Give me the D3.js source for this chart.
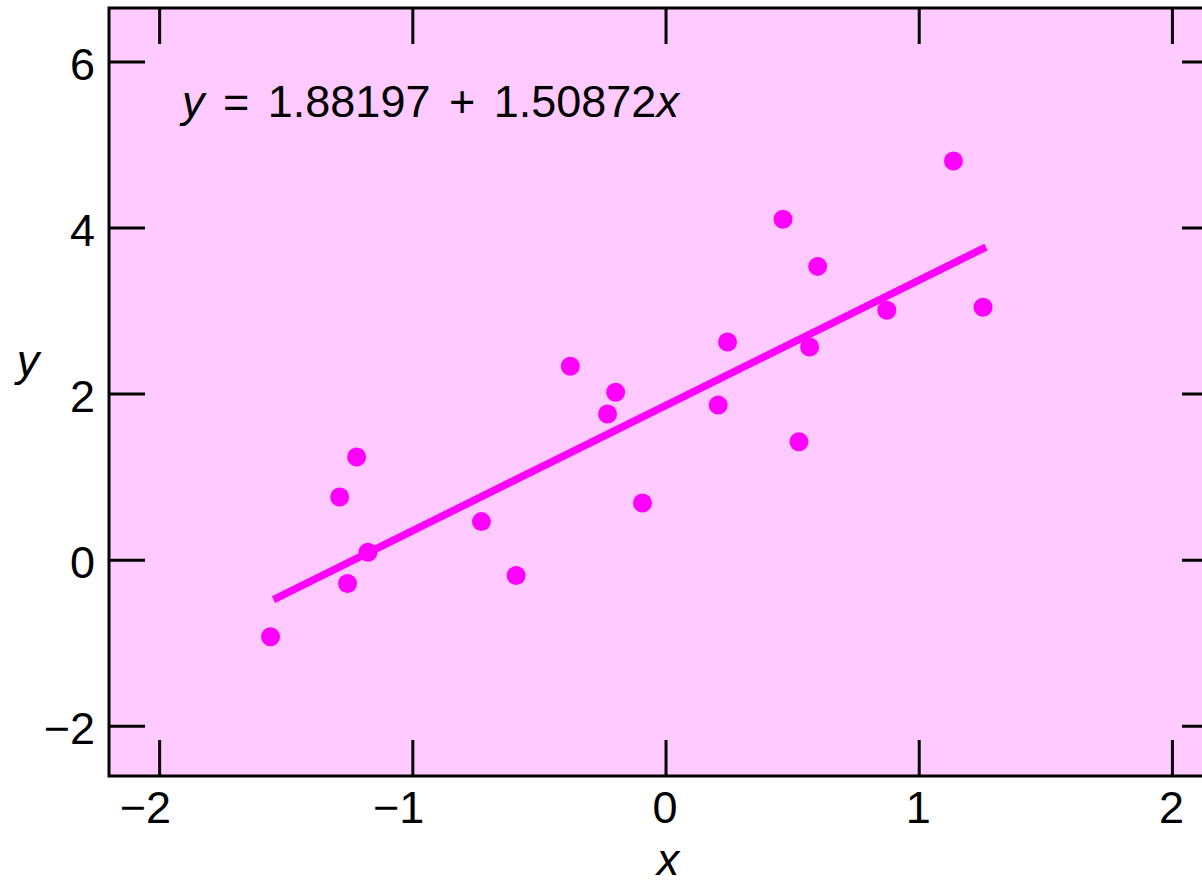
<!DOCTYPE html>
<meta charset="utf-8">
<title>Linear fit</title>
<style>
body {
  margin: 0;
  background: #fff;
}
text {
  font-family: "Liberation Sans", Arial, Helvetica, sans-serif;
  fill: #000;
}
</style>
<svg></svg>
<script src="https://d3js.org/d3.v7.min.js"></script>
<script>
// data points
var xs = [-1.562, -1.289, -1.258, -1.222, -1.177, -0.729, -0.592, -0.378, -0.231, -0.199,
          -0.093, 0.206, 0.243, 0.462, 0.525, 0.567, 0.599, 0.872, 1.135, 1.252];
var ys = [-0.922, 0.761, -0.281, 1.242, 0.095, 0.464, -0.185, 2.336, 1.759, 2.023,
          0.689, 1.867, 2.628, 4.106, 1.426, 2.568, 3.538, 3.009, 4.807, 3.045];
// fitted line y = a + b x
var intercept = 1.88197,
    slope = 1.50872;
var xTicks = [-2, -1, 0, 1, 2];
var yTicks = [-2, 0, 2, 4, 6];

var width = 1202,
    height = 882;
var fs = 45;

var svg = d3.select("svg")
    .attr("width", width)
    .attr("height", height);

var x = d3.scaleLinear()
    .domain([-2.2, 2.18])
    .range([109, 1218]);
var y = d3.scaleLinear()
    .domain([-2.6, 6.65])
    .range([776, 8]);

var x0 = x.range()[0], x1 = x.range()[1],
    y0 = y.range()[1], y1 = y.range()[0];

// plot background
svg.append("rect")
    .attr("x", x0)
    .attr("y", y0)
    .attr("width", x1 - x0)
    .attr("height", y1 - y0)
    .style("fill", "#ffcaff");

// tick marks on all four sides, pointing inward
var tickLen = 36;
var ticks = svg.append("g")
    .style("stroke", "#000")
    .style("stroke-width", 3);
xTicks.forEach(function(t) {
  ticks.append("line")
      .attr("x1", x(t)).attr("x2", x(t))
      .attr("y1", y1).attr("y2", y1 - tickLen);
  ticks.append("line")
      .attr("x1", x(t)).attr("x2", x(t))
      .attr("y1", y0).attr("y2", y0 + tickLen);
});
yTicks.forEach(function(t) {
  ticks.append("line")
      .attr("x1", x0).attr("x2", x0 + tickLen)
      .attr("y1", y(t)).attr("y2", y(t));
  ticks.append("line")
      .attr("x1", x1).attr("x2", x1 - tickLen)
      .attr("y1", y(t)).attr("y2", y(t));
});

// frame
svg.append("rect")
    .attr("x", x0)
    .attr("y", y0)
    .attr("width", x1 - x0)
    .attr("height", y1 - y0)
    .style("fill", "none")
    .style("stroke", "#000")
    .style("stroke-width", 3);

function fmt(t) {
  return t < 0 ? "\u2212" + Math.abs(t) : String(t);
}

// x tick labels (digit centred on tick, minus hangs left)
svg.append("g").selectAll("text")
    .data(xTicks)
  .enter().append("text")
    .attr("x", function(d) { return x(d) + 0.278 * fs - 1; })
    .attr("y", 823)
    .attr("text-anchor", "end")
    .style("font-size", fs + "px")
    .text(fmt);

// y tick labels
svg.append("g").selectAll("text")
    .data(yTicks)
  .enter().append("text")
    .attr("x", 95)
    .attr("y", function(d) { return y(d) + 18; })
    .attr("text-anchor", "end")
    .style("font-size", fs + "px")
    .text(fmt);

// axis titles
svg.append("text")
    .attr("x", 668)
    .attr("y", 875)
    .attr("text-anchor", "middle")
    .style("font-size", fs + "px")
    .style("font-style", "italic")
    .text("x");
svg.append("text")
    .attr("x", 28)
    .attr("y", 376)
    .attr("text-anchor", "middle")
    .style("font-size", fs + "px")
    .style("font-style", "italic")
    .text("y");

// fitted line over the data range
var ext = d3.extent(xs);
svg.append("line")
    .attr("x1", x(ext[0]) + 3)
    .attr("y1", y(intercept + slope * ext[0]))
    .attr("x2", x(ext[1]) + 3)
    .attr("y2", y(intercept + slope * ext[1]))
    .style("stroke", "#ff00ff")
    .style("stroke-width", 7.5);

// points
svg.append("g").selectAll("circle")
    .data(xs.map(function(d, i) { return [d, ys[i]]; }))
  .enter().append("circle")
    .attr("cx", function(d) { return x(d[0]); })
    .attr("cy", function(d) { return y(d[1]); })
    .attr("r", 9.5)
    .style("fill", "#ff00ff");

// equation
var eq = svg.append("text")
    .attr("x", 182)
    .attr("y", 117)
    .style("font-size", fs + "px")
    .style("word-spacing", "6px");
eq.append("tspan").style("font-style", "italic").text("y");
eq.append("tspan").text(" = " + intercept + " + " + slope);
eq.append("tspan").style("font-style", "italic").text("x");
</script>
